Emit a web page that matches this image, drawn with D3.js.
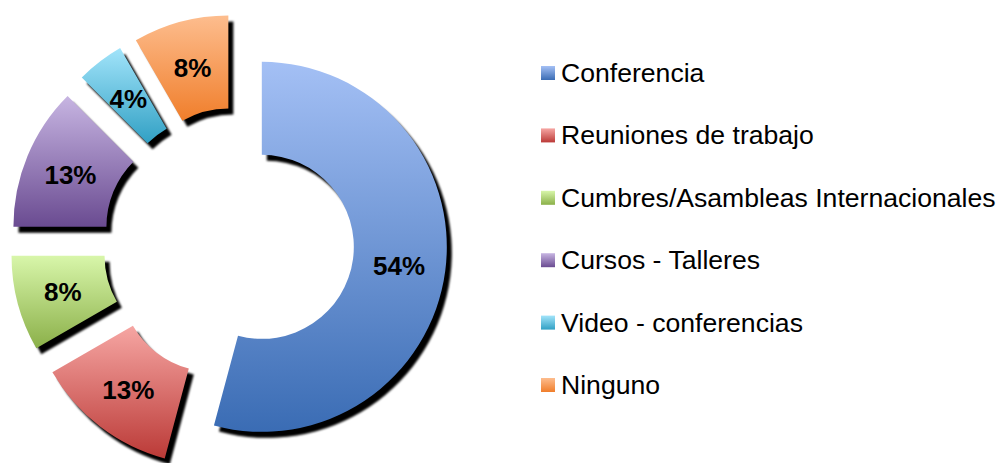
<!DOCTYPE html>
<html>
<head>
<meta charset="utf-8">
<script src="https://cdn.jsdelivr.net/npm/d3@7"></script>
<style>
  body { margin: 0; background: #fff; }
  svg { display: block; font-family: "Liberation Sans", Arial, sans-serif; }
</style>
</head>
<body>
<div id="chart"></div>
<script>
// data
var categories = ["Conferencia", "Reuniones de trabajo", "Cumbres/Asambleas Internacionales",
                  "Cursos - Talleres", "Video - conferencias", "Ninguno"];
var counts = [13, 3, 2, 3, 1, 2];

// styles
var topColors    = ["#a4c0f5", "#f6a6a3", "#d8f6aa", "#c7b5e2", "#a2e4fa", "#fdbd8e"];
var bottomColors = ["#3a6cb4", "#bb3a37", "#8bb049", "#6a4b91", "#31a0c4", "#f07e2b"];
var explodeOffsets = [22, 45, 45, 45, 45, 45];

var svgWidth = 997, svgHeight = 463;
var center = { x: 240, y: 244 };
var outerRadius = 185, innerRadius = 92;

var svg = d3.select("#chart").append("svg")
    .attr("width", svgWidth)
    .attr("height", svgHeight);

var defs = svg.append("defs");

// gradients, light at top, dark at bottom
categories.forEach(function (c, i) {
    var g = defs.append("linearGradient")
        .attr("id", "grad" + i)
        .attr("x1", 0).attr("y1", 0).attr("x2", 0).attr("y2", 1);
    g.append("stop").attr("offset", "0%").attr("stop-color", topColors[i]);
    g.append("stop").attr("offset", "100%").attr("stop-color", bottomColors[i]);
});

var blur = defs.append("filter").attr("id", "soft")
    .attr("x", "-10%").attr("y", "-10%").attr("width", "120%").attr("height", "120%");
blur.append("feGaussianBlur").attr("stdDeviation", 0.8);

var total = d3.sum(counts);
var pie = d3.pie().sort(null).value(d => d)(counts);

var arc = d3.arc()
    .innerRadius(innerRadius)
    .outerRadius(outerRadius);

var labelArc = d3.arc()
    .innerRadius((innerRadius + outerRadius) / 2)
    .outerRadius((innerRadius + outerRadius) / 2);

function offset(d, i) {
    var a = (d.startAngle + d.endAngle) / 2;
    var e = explodeOffsets[i];
    return [center.x + e * Math.sin(a), center.y - e * Math.cos(a)];
}

var chartGroup = svg.append("g");

// shadows first
chartGroup.selectAll("path.shadow")
    .data(pie)
    .enter()
    .append("path")
    .attr("class", "shadow")
    .attr("transform", (d, i) => {
        var p = offset(d, i);
        return `translate(${p[0] + 5}, ${p[1] + 6})`;
    })
    .attr("d", arc)
    .attr("fill", "#000")
    .attr("filter", "url(#soft)");

// slices
chartGroup.selectAll("path.slice")
    .data(pie)
    .enter()
    .append("path")
    .attr("class", "slice")
    .attr("transform", (d, i) => {
        var p = offset(d, i);
        return `translate(${p[0]}, ${p[1]})`;
    })
    .attr("d", arc)
    .attr("fill", (d, i) => `url(#grad${i})`);

// percentage labels
chartGroup.selectAll("text.pct")
    .data(pie)
    .enter()
    .append("text")
    .attr("class", "pct")
    .attr("transform", (d, i) => {
        var p = offset(d, i);
        var c = labelArc.centroid(d);
        return `translate(${p[0] + c[0]}, ${p[1] + c[1]})`;
    })
    .attr("text-anchor", "middle")
    .attr("dy", "0.38em")
    .attr("font-size", "26px")
    .attr("font-weight", "bold")
    .attr("fill", "#000")
    .text(d => Math.round(d.value / total * 100) + "%");

// legend
var legendY = d3.scalePoint()
    .domain(categories)
    .range([73, 385]);

var legend = svg.append("g");
var rows = legend.selectAll("g")
    .data(categories)
    .enter()
    .append("g")
    .attr("transform", d => `translate(541, ${legendY(d)})`);

rows.append("rect")
    .attr("x", 0)
    .attr("y", -7)
    .attr("width", 14)
    .attr("height", 14)
    .attr("fill", (d, i) => `url(#grad${i})`);

rows.append("text")
    .attr("x", 20)
    .attr("y", 9)
    .attr("font-size", "26.6px")
    .attr("fill", "#000")
    .text(d => d);
</script>
</body>
</html>
